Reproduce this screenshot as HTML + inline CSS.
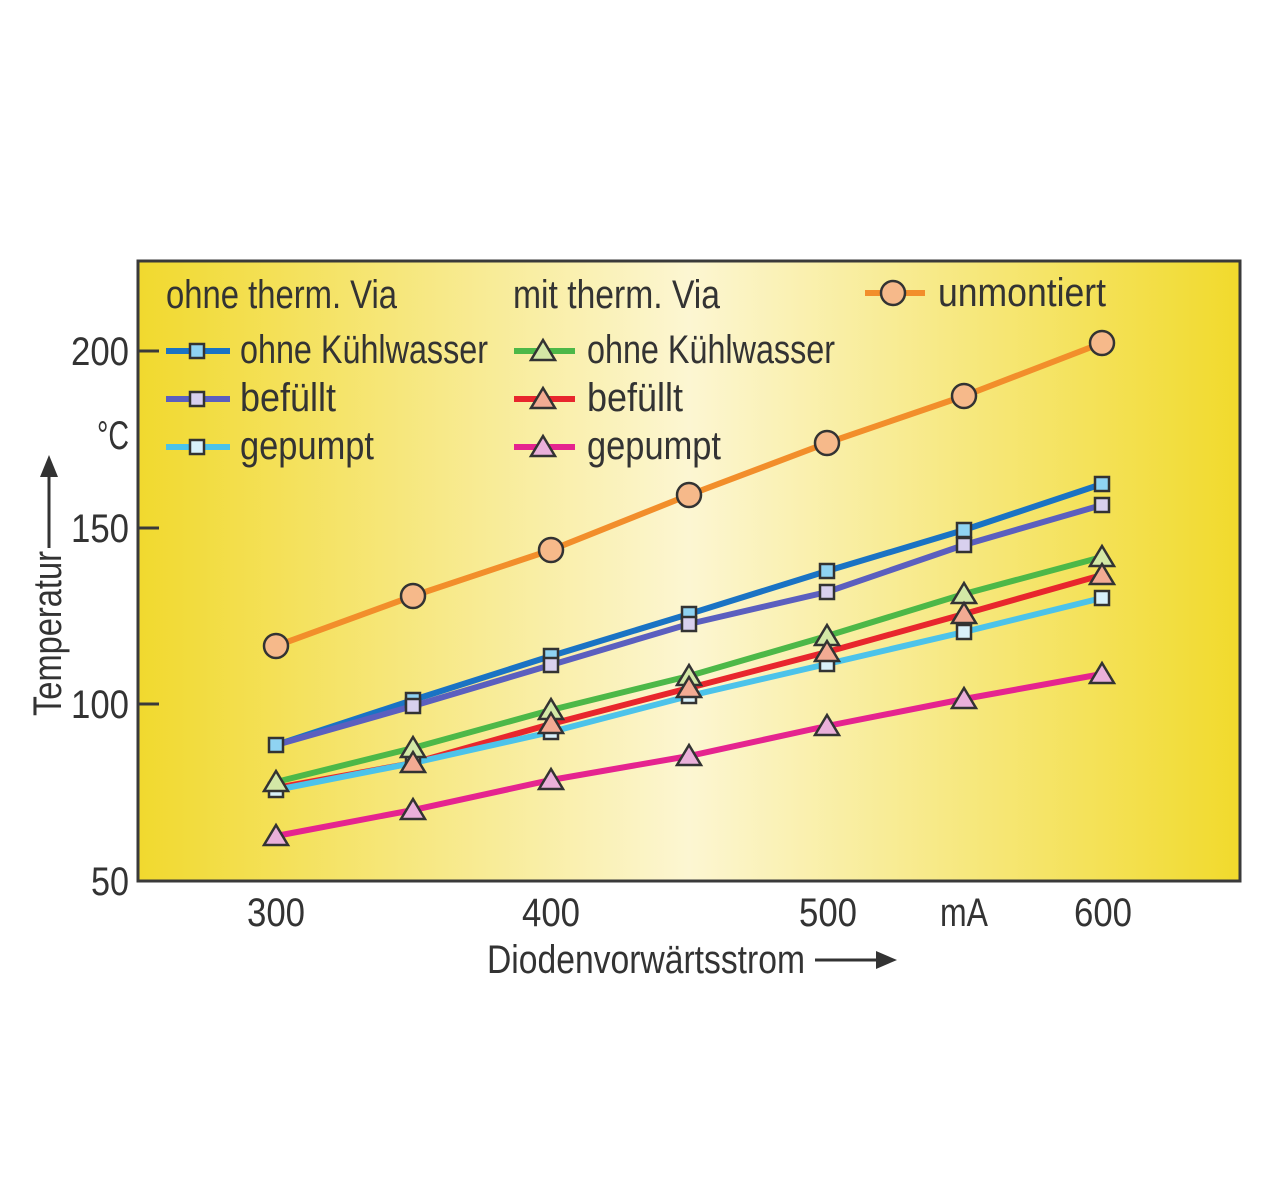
<!DOCTYPE html>
<html><head><meta charset="utf-8"><style>html,body{margin:0;padding:0;background:#fff}svg{display:block}text{font-family:"Liberation Sans",sans-serif;fill:#333}</style></head><body>
<svg width="1280" height="1190" viewBox="0 0 1280 1190" xmlns="http://www.w3.org/2000/svg">
<defs>
<linearGradient id="bg" x1="0" x2="1" y1="0" y2="0">
<stop offset="0" stop-color="#f1d92e"/>
<stop offset="0.5" stop-color="#fcf6d2"/>
<stop offset="1" stop-color="#f1da2c"/>
</linearGradient>
</defs>
<rect x="138" y="261" width="1102" height="620" fill="url(#bg)" stroke="#3a3a3a" stroke-width="3"/>
<g stroke="#3a3a3a" stroke-width="3">
<line x1="138" y1="351" x2="159" y2="351"/><line x1="138" y1="528" x2="159" y2="528"/><line x1="138" y1="704" x2="159" y2="704"/>
</g>
<g font-size="40" text-anchor="end">
<text x="129" y="365" textLength="58" lengthAdjust="spacingAndGlyphs">200</text>
<text x="129" y="542" textLength="58" lengthAdjust="spacingAndGlyphs">150</text>
<text x="129" y="718" textLength="58" lengthAdjust="spacingAndGlyphs">100</text>
<text x="129" y="895" textLength="38" lengthAdjust="spacingAndGlyphs">50</text>
<text x="129" y="449" textLength="32" lengthAdjust="spacingAndGlyphs">°C</text>
</g>
<g font-size="40" text-anchor="middle">
<text x="276" y="926" textLength="58" lengthAdjust="spacingAndGlyphs">300</text>
<text x="551" y="926" textLength="58" lengthAdjust="spacingAndGlyphs">400</text>
<text x="828" y="926" textLength="58" lengthAdjust="spacingAndGlyphs">500</text>
<text x="964" y="926" textLength="48" lengthAdjust="spacingAndGlyphs">mA</text>
<text x="1103" y="926" textLength="58" lengthAdjust="spacingAndGlyphs">600</text>
</g>
<text x="487" y="973" font-size="40" textLength="318" lengthAdjust="spacingAndGlyphs">Diodenvorwärtsstrom</text>
<line x1="815" y1="960" x2="880" y2="960" stroke="#333" stroke-width="3"/>
<polygon points="897,960 876,951 876,969" fill="#333"/>
<text transform="translate(61,716) rotate(-90)" font-size="40" textLength="165" lengthAdjust="spacingAndGlyphs">Temperatur</text>
<line x1="49" y1="548" x2="49" y2="475" stroke="#333" stroke-width="3"/>
<polygon points="49,455 40,477 58,477" fill="#333"/>
<g font-size="40">
<text x="166" y="308" textLength="231" lengthAdjust="spacingAndGlyphs">ohne therm. Via</text>
<text x="513" y="308" textLength="207" lengthAdjust="spacingAndGlyphs">mit therm. Via</text>
<text x="938" y="306" textLength="168" lengthAdjust="spacingAndGlyphs">unmontiert</text>
<text x="240" y="363" textLength="248" lengthAdjust="spacingAndGlyphs">ohne Kühlwasser</text>
<text x="240" y="411" textLength="96" lengthAdjust="spacingAndGlyphs">befüllt</text>
<text x="240" y="459" textLength="134" lengthAdjust="spacingAndGlyphs">gepumpt</text>
<text x="587" y="363" textLength="248" lengthAdjust="spacingAndGlyphs">ohne Kühlwasser</text>
<text x="587" y="411" textLength="96" lengthAdjust="spacingAndGlyphs">befüllt</text>
<text x="587" y="459" textLength="134" lengthAdjust="spacingAndGlyphs">gepumpt</text>
</g>
<g stroke-width="6" fill="none">
<line x1="166" y1="351" x2="230" y2="351" stroke="#1a73c4"/>
<line x1="166" y1="399" x2="230" y2="399" stroke="#5b5fbf"/>
<line x1="166" y1="447" x2="230" y2="447" stroke="#4cc3ea"/>
<line x1="514" y1="351" x2="575" y2="351" stroke="#4db848"/>
<line x1="514" y1="399" x2="575" y2="399" stroke="#e8262d"/>
<line x1="514" y1="447" x2="575" y2="447" stroke="#e5248f"/>
<line x1="865" y1="293" x2="925" y2="293" stroke="#f28e2b"/>
<polyline stroke="#f28e2b" points="276,646 413,596 551,550 689,495 827,443 964,396 1102,343"/>
<polyline stroke="#1a73c4" points="276,745 413,700 551,656 689,614 827,571 964,530 1102,484"/>
<polyline stroke="#5b5fbf" points="276,745 413,706 551,665 689,624 827,592 964,545 1102,505"/>
<polyline stroke="#4db848" points="276,782 413,748 551,710 689,676 827,636 964,594 1102,557"/>
<polyline stroke="#e8262d" points="276,788 413,763 551,724 689,688 827,652 964,614 1102,575"/>
<polyline stroke="#4cc3ea" points="276,790 413,763 551,732 689,696 827,664 964,632 1102,598"/>
<polyline stroke="#e5248f" points="276,836 413,810 551,780 689,756 827,726 964,699 1102,674"/>
</g>
<g stroke="#333" stroke-width="2.5">
<g fill="#f6b98a">
<circle cx="893" cy="293" r="12"/>
<circle cx="276" cy="646" r="12"/><circle cx="413" cy="596" r="12"/><circle cx="551" cy="550" r="12"/><circle cx="689" cy="495" r="12"/><circle cx="827" cy="443" r="12"/><circle cx="964" cy="396" r="12"/><circle cx="1102" cy="343" r="12"/>
</g>
<g fill="#8fd3f2">
<rect x="190" y="344" width="14" height="14"/>
<rect x="269" y="738" width="14" height="14"/><rect x="406" y="693" width="14" height="14"/><rect x="544" y="649" width="14" height="14"/><rect x="682" y="607" width="14" height="14"/><rect x="820" y="564" width="14" height="14"/><rect x="957" y="523" width="14" height="14"/><rect x="1095" y="477" width="14" height="14"/>
</g>
<g fill="#d8d0ee">
<rect x="190" y="392" width="14" height="14"/>
<rect x="406" y="699" width="14" height="14"/><rect x="544" y="658" width="14" height="14"/><rect x="682" y="617" width="14" height="14"/><rect x="820" y="585" width="14" height="14"/><rect x="957" y="538" width="14" height="14"/><rect x="1095" y="498" width="14" height="14"/>
</g>
<g fill="#d9f1fa">
<rect x="190" y="440" width="14" height="14"/>
<rect x="269" y="783" width="14" height="14"/><rect x="406" y="756" width="14" height="14"/><rect x="544" y="725" width="14" height="14"/><rect x="682" y="689" width="14" height="14"/><rect x="820" y="657" width="14" height="14"/><rect x="957" y="625" width="14" height="14"/><rect x="1095" y="591" width="14" height="14"/>
</g>
<g fill="#d3e8a6">
<polygon points="543,340 555,360 531,360"/>
<polygon points="276,771 288,791 264,791"/><polygon points="413,737 425,757 401,757"/><polygon points="551,699 563,719 539,719"/><polygon points="689,665 701,685 677,685"/><polygon points="827,625 839,645 815,645"/><polygon points="964,583 976,603 952,603"/><polygon points="1102,546 1114,566 1090,566"/>
</g>
<g fill="#f2ab93">
<polygon points="543,388 555,408 531,408"/>
<polygon points="413,752 425,772 401,772"/><polygon points="551,713 563,733 539,733"/><polygon points="689,677 701,697 677,697"/><polygon points="827,641 839,661 815,661"/><polygon points="964,603 976,623 952,623"/><polygon points="1102,564 1114,584 1090,584"/>
</g>
<g fill="#eab0da">
<polygon points="543,436 555,456 531,456"/>
<polygon points="276,825 288,845 264,845"/><polygon points="413,799 425,819 401,819"/><polygon points="551,769 563,789 539,789"/><polygon points="689,745 701,765 677,765"/><polygon points="827,715 839,735 815,735"/><polygon points="964,688 976,708 952,708"/><polygon points="1102,663 1114,683 1090,683"/>
</g>
</g>
</svg>
</body></html>
